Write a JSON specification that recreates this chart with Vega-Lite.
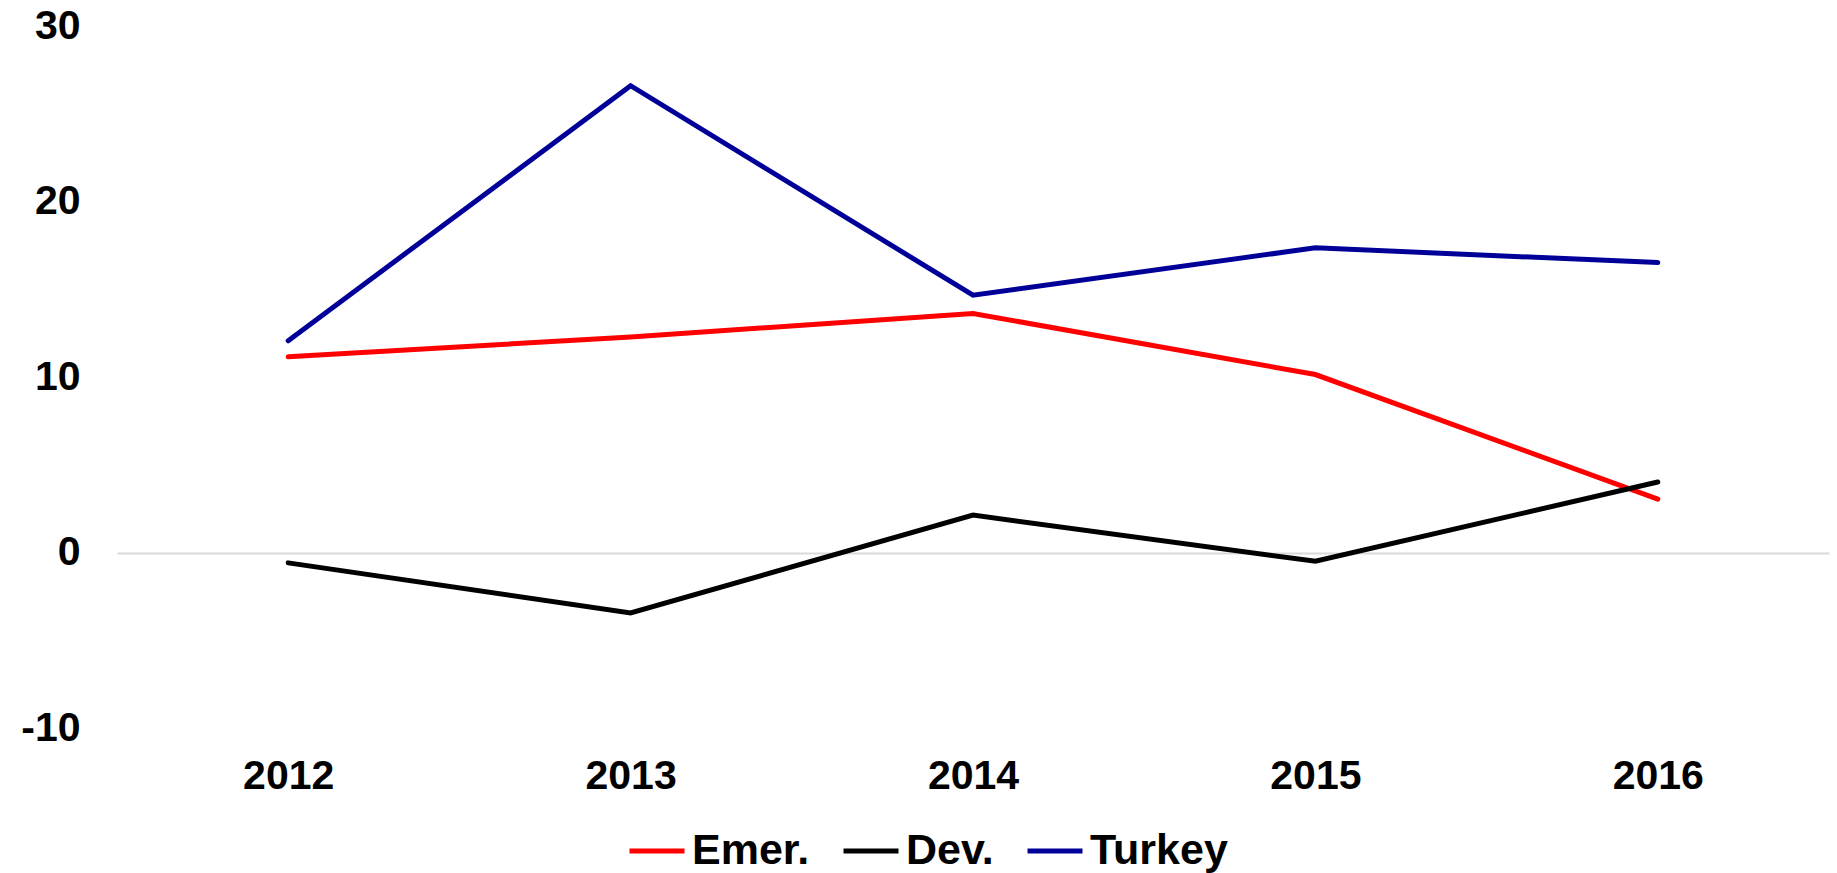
{
  "$schema": "https://vega.github.io/schema/vega-lite/v6.json",
  "autosize": {"type": "none"},
  "padding": {"left": 117, "top": 26, "right": 8, "bottom": 145},
  "width": 1712,
  "height": 702,
  "background": "white",
  "config": {
    "view": {"stroke": null},
    "font": "Liberation Sans"
  },
  "data": {
    "values": [
      {"year": "2012", "series": "Emer.", "value": 11.15},
      {"year": "2013", "series": "Emer.", "value": 12.28},
      {"year": "2014", "series": "Emer.", "value": 13.62},
      {"year": "2015", "series": "Emer.", "value": 10.14},
      {"year": "2016", "series": "Emer.", "value": 3.04},
      {"year": "2012", "series": "Dev.", "value": -0.59},
      {"year": "2013", "series": "Dev.", "value": -3.44},
      {"year": "2014", "series": "Dev.", "value": 2.13},
      {"year": "2015", "series": "Dev.", "value": -0.5},
      {"year": "2016", "series": "Dev.", "value": 4.02},
      {"year": "2012", "series": "Turkey", "value": 12.06},
      {"year": "2013", "series": "Turkey", "value": 26.6},
      {"year": "2014", "series": "Turkey", "value": 14.66},
      {"year": "2015", "series": "Turkey", "value": 17.36},
      {"year": "2016", "series": "Turkey", "value": 16.52}
    ]
  },
  "mark": {"type": "line", "strokeWidth": 5, "strokeCap": "round", "strokeJoin": "miter"},
  "encoding": {
    "x": {
      "field": "year",
      "type": "ordinal",
      "scale": {"type": "point", "padding": 0.5},
      "axis": {
        "title": null,
        "labelAngle": 0,
        "domain": false,
        "ticks": false,
        "grid": false,
        "labelFont": "Liberation Sans",
        "labelFontSize": 41,
        "labelFontWeight": "bold",
        "labelColor": "#000000",
        "labelPadding": 28
      }
    },
    "y": {
      "field": "value",
      "type": "quantitative",
      "scale": {"domain": [-10, 30], "nice": false, "zero": false},
      "axis": {
        "title": null,
        "values": [-10, 0, 10, 20, 30],
        "labelExpr": "'' + datum.value",
        "domain": false,
        "ticks": false,
        "grid": true,
        "gridColor": {"condition": {"test": "datum.value === 0", "value": "#d9d9d9"}, "value": "transparent"},
        "gridWidth": 2,
        "labelFont": "Liberation Sans",
        "labelFontSize": 41,
        "labelFontWeight": "bold",
        "labelColor": "#000000",
        "labelPadding": 37
      }
    },
    "color": {
      "field": "series",
      "type": "nominal",
      "sort": ["Emer.", "Dev.", "Turkey"],
      "scale": {"domain": ["Emer.", "Dev.", "Turkey"], "range": ["#ff0000", "#000000", "#000099"]},
      "legend": {
        "title": null,
        "orient": "none",
        "direction": "horizontal",
        "legendX": 510,
        "legendY": 795,
        "symbolType": "stroke",
        "symbolSize": 3025,
        "symbolStrokeWidth": 5,
        "labelFont": "Liberation Sans",
        "labelFontSize": 43,
        "labelFontWeight": "bold",
        "labelColor": "#000000",
        "labelOffset": 5,
        "columnPadding": 23,
        "labelLimit": 400
      }
    }
  }
}
